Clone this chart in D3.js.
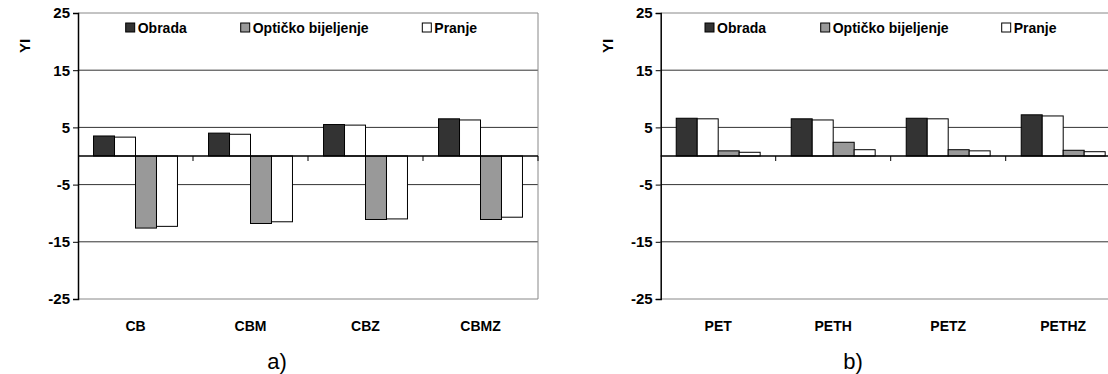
<!DOCTYPE html>
<html>
<head>
<meta charset="utf-8">
<script src="https://cdn.jsdelivr.net/npm/d3@7"></script>
<style>
  html, body { margin: 0; padding: 0; background: #fff; }
  svg { display: block; font-family: "Liberation Sans", Arial, sans-serif; }
  .ylab { font-family: "Liberation Sans", Arial, sans-serif; font-weight: bold; font-size: 15px; fill: #000; }
</style>
</head>
<body>
<svg id="chart" width="1108" height="374"></svg>
<script>
// Series shown in the legend and the bar series drawn in each group
const legendNames = ["Obrada", "Optičko bijeljenje", "Pranje"];
const barSeries = ["Obrada", "Pranje", "Optičko bijeljenje", "Pranje"];

// Panel a) cotton samples
const catsA = ["CB", "CBM", "CBZ", "CBMZ"];
const obradaA  = [3.5, 4.0, 5.5, 6.5];
const pranje1A = [3.3, 3.8, 5.4, 6.3];
const optickoA = [-12.6, -11.8, -11.1, -11.1];
const pranje2A = [-12.3, -11.5, -11.0, -10.7];

// Panel b) polyester samples
const catsB = ["PET", "PETH", "PETZ", "PETHZ"];
const obradaB  = [6.6, 6.5, 6.6, 7.2];
const pranje1B = [6.5, 6.3, 6.5, 7.0];
const optickoB = [0.9, 2.4, 1.1, 1.0];
const pranje2B = [0.65, 1.1, 0.9, 0.75];

const yTicks = [-25, -15, -5, 5, 15, 25];
const yDomain = [-25, 25];
const yTitle = "YI";
const panelLabels = ["a)", "b)"];

const fills = { "Obrada": "#333333", "Optičko bijeljenje": "#999999", "Pranje": "#ffffff" };

const svg = d3.select("#chart");

function drawPanel(ox, cats, series, label, legendX, captionX) {
  const W = 460, H = 286, top = 13;
  const g = svg.append("g").attr("transform", `translate(${ox},${top})`);

  const y = d3.scaleLinear().domain(yDomain).range([H, 0]);
  const x0 = d3.scaleBand().domain(cats).range([0, W]).padding(0);
  const x1 = d3.scaleBand().domain(d3.range(barSeries.length))
    .range([0, x0.bandwidth()]).paddingInner(0).paddingOuter(0.74);

  // horizontal gridlines
  g.append("g").selectAll("line")
    .data(yTicks.filter(t => t !== 25 && t !== -25))
    .join("line")
    .attr("x1", 0).attr("x2", W)
    .attr("y1", d => y(d)).attr("y2", d => y(d))
    .attr("stroke", "#333").attr("stroke-width", 1);

  // plot area frame (top, right, bottom)
  g.append("path")
    .attr("d", `M0,${y(25)}H${W}V${y(-25)}H0`)
    .attr("fill", "none").attr("stroke", "#888").attr("stroke-width", 1);

  // bars
  const rows = cats.map((c, i) => ({ cat: c, vals: series.map(s => s[i]) }));
  g.append("g").selectAll("g")
    .data(rows)
    .join("g")
    .attr("transform", d => `translate(${x0(d.cat)},0)`)
    .selectAll("rect")
    .data(d => d.vals.map((v, j) => ({ v, j })))
    .join("rect")
    .attr("x", d => x1(d.j))
    .attr("width", x1.bandwidth())
    .attr("y", d => y(Math.max(0, d.v)))
    .attr("height", d => Math.abs(y(d.v) - y(0)))
    .attr("fill", d => fills[barSeries[d.j]])
    .attr("stroke", "#000").attr("stroke-width", 1);

  // zero line with category separator ticks
  g.append("line")
    .attr("x1", 0).attr("x2", W).attr("y1", y(0)).attr("y2", y(0))
    .attr("stroke", "#000").attr("stroke-width", 1.5);
  g.append("g").selectAll("line")
    .data(cats)
    .join("line")
    .attr("x1", (d, i) => x0.step() * (i + 1)).attr("x2", (d, i) => x0.step() * (i + 1))
    .attr("y1", y(0)).attr("y2", y(0) + 5)
    .attr("stroke", "#000").attr("stroke-width", 1);

  // category labels below plot
  g.append("g").selectAll("text")
    .data(cats)
    .join("text")
    .attr("x", d => x0(d) + x0.bandwidth() / 2)
    .attr("y", H + 32)
    .attr("text-anchor", "middle")
    .attr("font-size", 14).attr("font-weight", "bold")
    .text(d => d);

  // y axis (plain hyphen for negatives)
  const yAxis = d3.axisLeft(y).tickValues(yTicks).tickSize(5).tickPadding(3)
    .tickFormat(d => String(d));
  const ya = g.append("g").call(yAxis);
  ya.attr("font-size", null).attr("font-family", null);
  ya.select(".domain").attr("stroke", "#000").attr("stroke-width", 1.5);
  ya.selectAll(".tick line").attr("stroke", "#000");
  ya.selectAll(".tick text").attr("class", "ylab").attr("fill", null);

  // y title
  g.append("text")
    .attr("transform", `translate(-48,33) rotate(-90)`)
    .attr("text-anchor", "middle")
    .attr("font-size", 15).attr("font-weight", "bold")
    .text(yTitle);

  // legend
  const lg = g.append("g").attr("transform", "translate(0,10)");
  legendNames.forEach((name, i) => {
    const it = lg.append("g").attr("transform", `translate(${legendX[i]},0)`);
    it.append("rect").attr("x", 0).attr("y", 0).attr("width", 9).attr("height", 9)
      .attr("fill", fills[name]).attr("stroke", "#000").attr("stroke-width", 1);
    it.append("text").attr("x", 12).attr("y", 10)
      .attr("font-size", 14).attr("font-weight", "bold")
      .text(name);
  });

  // panel caption
  svg.append("text")
    .attr("x", captionX).attr("y", 369)
    .attr("text-anchor", "middle")
    .attr("font-size", 22)
    .text(label);
}

drawPanel(78, catsA, [obradaA, pranje1A, optickoA, pranje2A], panelLabels[0], [47.7, 162.7, 344.3], 277);
drawPanel(660.7, catsB, [obradaB, pranje1B, optickoB, pranje2B], panelLabels[1], [44.3, 160, 341], 853);
</script>
</body>
</html>
